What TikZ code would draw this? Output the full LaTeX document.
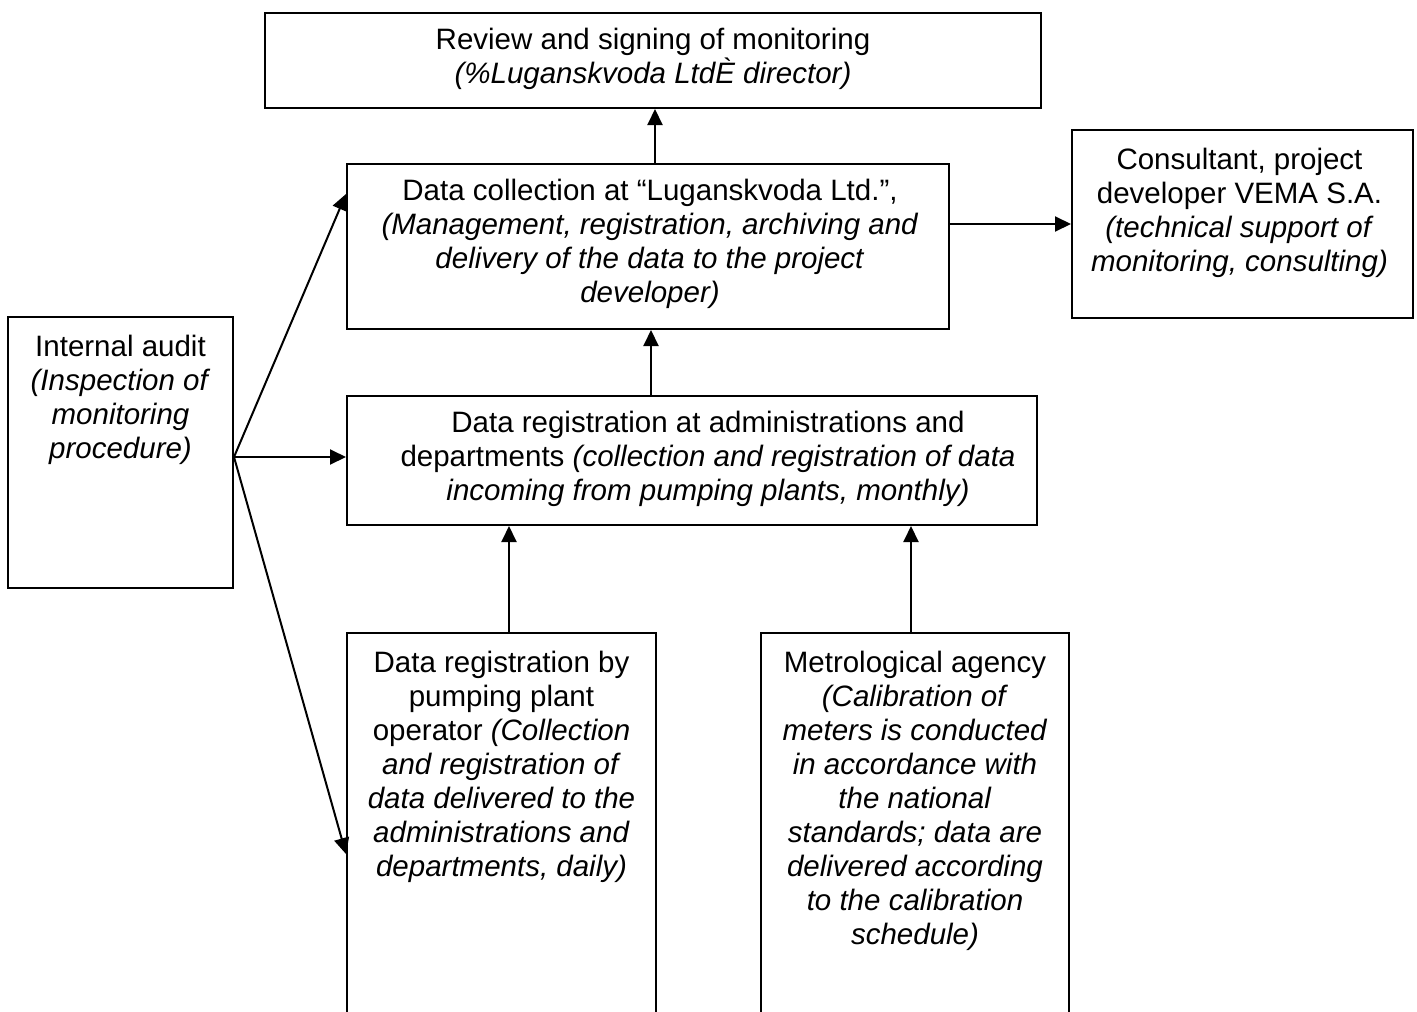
\documentclass[tikz,border=0pt]{standalone}
\usepackage{fontspec}
\setmainfont{Liberation Sans}
\usetikzlibrary{arrows.meta,calc}
\tikzset{
  box/.style={draw=black, line width=2pt, rectangle, inner sep=0pt, anchor=north west},
  txt/.style={align=center, inner sep=0pt, font=\fontsize{29.5}{34}\selectfont},
  arr/.style={line width=2pt, -{Triangle[length=16pt,width=15pt]}}
}
\begin{document}
\begin{tikzpicture}[x=1pt,y=-1pt]
\clip (0,0) rectangle (1417,1012);
\fill[white] (0,0) rectangle (1417,1012);
% boxes
\node[box, minimum width=776pt, minimum height=95pt] (rev) at (264,12) {};
\node[box, minimum width=602pt, minimum height=165pt] (coll) at (346,163) {};
\node[box, minimum width=341pt, minimum height=188pt] (cons) at (1071,129) {};
\node[box, minimum width=225pt, minimum height=271pt] (aud) at (7,316) {};
\node[box, minimum width=690pt, minimum height=129pt] (reg) at (346,395) {};
\node[box, minimum width=309pt, minimum height=420pt] (pump) at (346,632) {};
\node[box, minimum width=308pt, minimum height=420pt] (met) at (760,632) {};
% texts
\node[txt] (revT) at ($(rev.center)+(0,-2)$) {Review and signing of monitoring\\\textit{(\%Luganskvoda LtdÈ director)}};
\node[txt] (collT) at ($(coll.center)+(2,-3)$) {Data collection at “Luganskvoda Ltd.”,\\\textit{(Management, registration, archiving and}\\\textit{delivery of the data to the project}\\\textit{developer)}};
\node[txt, anchor=north] (consT) at ($(cons.north)+(-3,19)$) {Consultant, project\\developer VEMA S.A.\\\textit{(technical support of}\\\textit{monitoring, consulting)}};
\node[txt, anchor=north] (audT) at ($(aud.north)+(0,19)$) {Internal audit\\\textit{(Inspection of}\\\textit{monitoring}\\\textit{procedure)}};
\node[txt] (regT) at ($(reg.center)+(16,-2)$) {Data registration at administrations and\\departments \textit{(collection and registration of data}\\\textit{incoming from pumping plants, monthly)}};
\node[txt, anchor=north] (pumpT) at ($(pump.north)+(0,19)$) {Data registration by\\pumping plant\\operator \textit{(Collection}\\\textit{and registration of}\\\textit{data delivered to the}\\\textit{administrations and}\\\textit{departments, daily)}};
\node[txt, anchor=north] (metT) at ($(met.north)+(0,19)$) {Metrological agency\\\textit{(Calibration of}\\\textit{meters is conducted}\\\textit{in accordance with}\\\textit{the national}\\\textit{standards; data are}\\\textit{delivered according}\\\textit{to the calibration}\\\textit{schedule)}};
% connector points
\coordinate (src) at ($(aud.north east)+(0,141)$);
\coordinate (collIn) at ($(coll.north west)+(0,31)$);
\coordinate (regIn) at (reg.west |- src);
\coordinate (pumpIn) at ($(pump.north west)+(0,222)$);
% arrows
\draw[arr] (coll.north -| 655,0) -- (rev.south -| 655,0);
\draw[arr] (reg.north -| 651,0) -- (coll.south -| 651,0);
\draw[arr] ($(coll.north east)+(0,61)$) -- ($(cons.north west)+(0,95)$);
\draw[arr] (src) -- (collIn);
\draw[arr] (src) -- (regIn);
\draw[arr] (src) -- (pumpIn);
\draw[arr] (pump.north -| 509,0) -- (reg.south -| 509,0);
\draw[arr] (met.north -| 911,0) -- (reg.south -| 911,0);
\end{tikzpicture}
\end{document}
